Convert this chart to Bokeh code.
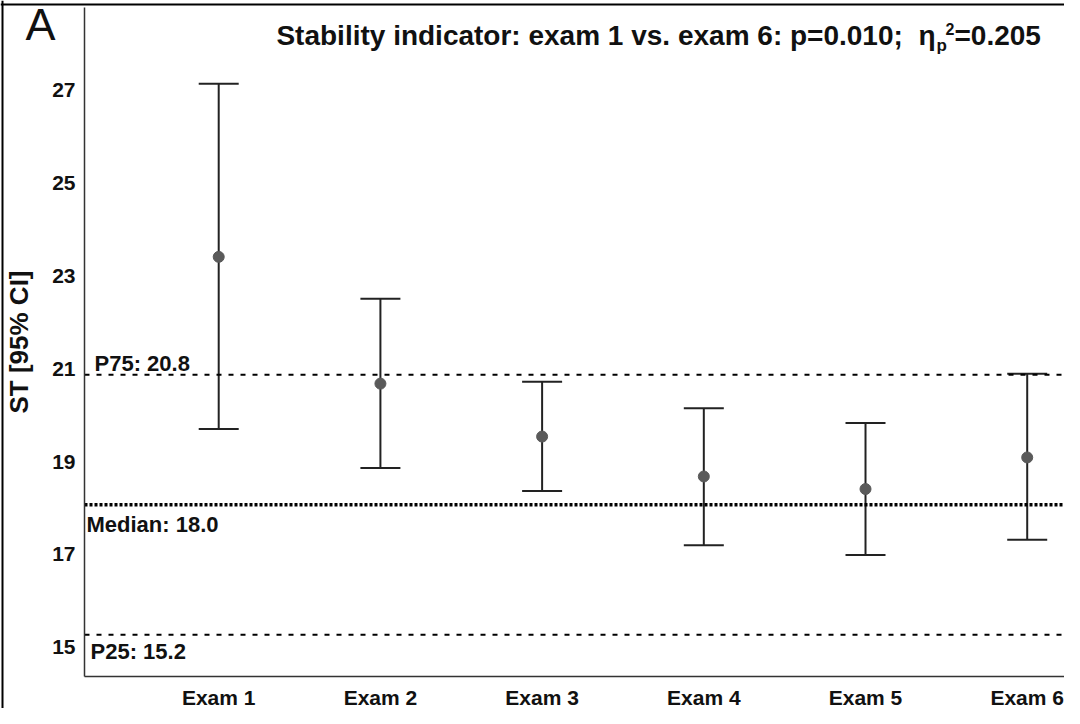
from bokeh.plotting import figure
from bokeh.models import Range1d, FixedTicker, Span, Label, Whisker, ColumnDataSource, TeeHead
from bokeh.embed import file_html
from bokeh.resources import INLINE

# ---- data ----
exams = ["Exam 1", "Exam 2", "Exam 3", "Exam 4", "Exam 5", "Exam 6"]
means = [23.34, 20.61, 19.47, 18.61, 18.34, 19.02]
lower = [19.63, 18.79, 18.30, 17.13, 16.92, 17.25]
upper = [27.07, 22.44, 20.65, 20.08, 19.76, 20.82]
ref_values = [20.8, 18.0, 15.2]
ref_labels = ["P75: 20.8", "Median: 18.0", "P25: 15.2"]
y_ticks = [15, 17, 19, 21, 23, 25, 27]
title_main = "Stability indicator: exam 1 vs. exam 6: p=0.010; \u00a0\u03b7"
title_sub = "p"
title_sup = "2"
title_end = "=0.205"
panel_letter = "A"
y_label = "ST [95% CI]"

# ---- layout (page pixel -> data helpers) ----
FONT = "Liberation Sans"
PAGE_L, PAGE_T = 8, 8          # canvas origin on the page
CW, CH = 1064, 708             # canvas = frame size
PX_PER_Y = 46.43
TICK_LABEL_DROP_PX = 3.2       # y tick labels sit slightly below their values


def x_of(px):
    return 0.17 + (px - 92) / 161.7


def y_of(py):
    return 20.8 + (382.3 - py) / PX_PER_Y


xs = [i + 1 for i in range(len(exams))]
src = ColumnDataSource(dict(x=xs, mean=means, lower=lower, upper=upper))

p = figure(width=CW, height=CH,
           x_range=Range1d(x_of(PAGE_L), x_of(PAGE_L + CW)),
           y_range=Range1d(y_of(PAGE_T + CH), y_of(PAGE_T)),
           output_backend="svg", toolbar_location=None,
           min_border=0, min_border_left=0, min_border_right=0,
           min_border_top=0, min_border_bottom=0)
p.outline_line_color = None
p.xgrid.visible = False
p.ygrid.visible = False
p.background_fill_color = "white"
p.border_fill_color = "white"

# axes drawn at fixed locations inside the canvas
for ax in (p.xaxis[0], p.yaxis[0]):
    ax.axis_line_color = "#333333"
    ax.axis_line_width = 1.5
    ax.major_tick_line_color = None
    ax.minor_tick_line_color = None
    ax.major_tick_out = 0
    ax.major_tick_in = 0
    ax.major_label_text_font = FONT
    ax.major_label_text_font_style = "bold"
    ax.major_label_text_font_size = "21px"
    ax.major_label_text_color = "#111111"

xax = p.xaxis[0]
xax.fixed_location = y_of(684)
xax.bounds = (x_of(92), x_of(PAGE_L + CW))
xax.ticker = FixedTicker(ticks=xs)
xax.major_label_overrides = {x: name for x, name in zip(xs, exams)}
xax.major_label_standoff = 9

yax = p.yaxis[0]
yax.fixed_location = x_of(92)
yax.bounds = (y_of(684), y_of(15))
shift = TICK_LABEL_DROP_PX / PX_PER_Y
tick_locs = [t - shift for t in y_ticks]
yax.ticker = FixedTicker(ticks=tick_locs)
yax.major_label_overrides = {loc: str(t) for loc, t in zip(tick_locs, y_ticks)}
yax.major_label_standoff = 9
yax.axis_label = y_label
yax.axis_label_text_font = FONT
yax.axis_label_text_font_style = "bold"
yax.axis_label_text_font_size = "26px"
yax.axis_label_text_color = "#111111"
yax.axis_label_standoff = 15

# outer figure border (left and top)
p.add_layout(Span(location=x_of(10), dimension="height", line_color="black", line_width=2))
p.add_layout(Span(location=y_of(12), dimension="width", line_color="black", line_width=2))

# reference lines (from the y axis to the right edge)
line_styles = [("5 7", 2), ("3 2", 3.5), ("5 7", 2)]
for val, (dash, lw) in zip(ref_values, line_styles):
    p.segment(x0=x_of(92), x1=x_of(PAGE_L + CW), y0=val, y1=val,
              line_color="black", line_dash=dash, line_width=lw)


def add_text(txt, px, py_mid, size, align="left", style="bold"):
    # py_mid: vertical centre of the capitals on the page
    p.add_layout(Label(x=x_of(px), y=y_of(py_mid), text=txt, text_font=FONT,
                       text_font_style=style, text_font_size=size,
                       text_color="#111111", text_baseline="middle",
                       text_align=align))


label_pos = [(102, 371), (94, 532), (98, 658.5)]
for txt, (lx, ly) in zip(ref_labels, label_pos):
    add_text(txt, lx, ly, "22px")

# error bars
tee = dict(size=40, line_color="#222222", line_width=2)
p.add_layout(Whisker(source=src, base="x", upper="upper", lower="lower",
                     line_color="#222222", line_width=2,
                     upper_head=TeeHead(**tee), lower_head=TeeHead(**tee)))
p.scatter("x", "mean", source=src, size=11, color="#5a5a5a")

# title pieces
add_text(title_main, 943, 43, "28px", align="right")
add_text(title_sub, 944, 53, "17px")
add_text(title_sup, 953, 36.5, "16px")
add_text(title_end, 962, 43, "28px")

# panel letter
add_text(panel_letter, 33, 31.5, "45px", style="normal")

open("out.html", "w").write(file_html(p, INLINE))
